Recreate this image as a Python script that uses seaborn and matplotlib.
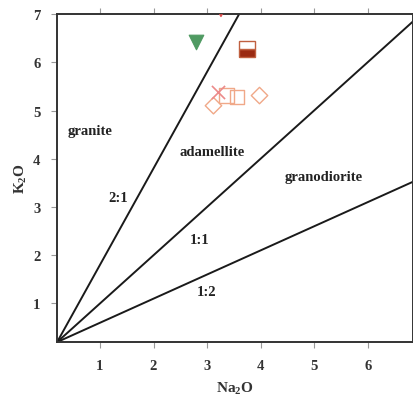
import numpy as np
import pandas as pd
import matplotlib
matplotlib.use("Agg")
import matplotlib.pyplot as plt
import seaborn as sns

# Sample compositions (wt%)
na2o_open = [3.36, 3.56]          # open squares
k2o_open = [5.31, 5.28]
na2o_diamond = [3.98, 3.12]       # open diamonds
k2o_diamond = [5.31, 5.10]
na2o_cross = [3.21]
k2o_cross = [5.38]
na2o_green = [2.80]
k2o_green = [6.42]
na2o_brown = [3.75]
k2o_brown = [6.28]
na2o_red = [3.26]
k2o_red = [7.10]

# K2O/Na2O ratio dividers
ratios = [2.0, 1.0, 0.5]
ratio_labels = ["2:1", "1:1", "1:2"]
ratio_label_pos = [(1.34, 3.19), (2.87, 2.32), (3.00, 1.24)]
field_names = ["granite", "adamellite", "granodiorite"]
field_pos = [(0.82, 4.58), (3.10, 4.14), (5.17, 3.64)]

x_ticks = [1, 2, 3, 4, 5, 6]
y_ticks = [1, 2, 3, 4, 5, 6, 7]
origin = (0.2, 0.2)

sns.set_theme(style="white")
plt.rcParams["font.family"] = ["Liberation Serif", "DejaVu Serif"]
plt.rcParams["mathtext.default"] = "regular"

fig = plt.figure(figsize=(4.14, 4.06), dpi=100)
ax = fig.add_axes([0.138, 0.155, 0.860, 0.808])

for k in ratios:
    ax.axline(origin, slope=k, color="#1a1a1a", lw=1.4, zorder=2)

sns.scatterplot(x=na2o_open, y=k2o_open, marker="s", s=110, facecolor="none",
                edgecolor="#f0a888", linewidth=1.0, ax=ax, zorder=3)
sns.scatterplot(x=na2o_diamond, y=k2o_diamond, marker="D", s=70, facecolor="none",
                edgecolor="#f0a888", linewidth=1.0, ax=ax, zorder=3)
sns.scatterplot(x=na2o_cross, y=k2o_cross, marker="x", s=90, color="#ec8a8a",
                linewidth=1.2, ax=ax, zorder=3)
sns.scatterplot(x=na2o_green, y=k2o_green, marker="v", s=110, color="#4f9a62",
                edgecolor="#4f9a62", ax=ax, zorder=3)
sns.scatterplot(x=na2o_red, y=k2o_red, marker="v", s=110, facecolor="none",
                edgecolor="#e05050", linewidth=1.0, ax=ax, zorder=3)
ax.plot(na2o_brown, k2o_brown, linestyle="none", marker="s", markersize=11,
        fillstyle="bottom", markerfacecolor="#9a2a12", markerfacecoloralt="white",
        markeredgecolor="#c06040", markeredgewidth=1.0, zorder=3)

for (x, y), name in zip(field_pos, field_names):
    ax.text(x, y, name, ha="center", va="center", fontsize=10.5,
            fontweight="bold", color="#222222")
for (x, y), lab in zip(ratio_label_pos, ratio_labels):
    ax.text(x, y, lab, ha="center", va="center", fontsize=10.5,
            fontweight="bold", color="#222222")

ax.set_xlim(0.2, 6.85)
ax.set_ylim(0.2, 7.0)
ax.set_xticks(x_ticks)
ax.set_yticks(y_ticks)
ax.tick_params(axis="both", direction="out", length=4, width=0.8,
               color="#999999", labelsize=10.5, labelcolor="#333333", pad=8)
ax.tick_params(axis="x", top=True, bottom=True)
ax.tick_params(axis="y", left=True)
for lab in ax.get_xticklabels() + ax.get_yticklabels():
    lab.set_fontweight("bold")

for sp in ax.spines.values():
    sp.set_color("#333333")
    sp.set_linewidth(1.4)

ax.set_xlabel("Na$_2$O", fontsize=11, fontweight="bold", color="#333333", labelpad=6)
ax.set_ylabel("K$_2$O", fontsize=11, fontweight="bold", color="#333333", labelpad=3)

fig.savefig("out.png", dpi=100)
